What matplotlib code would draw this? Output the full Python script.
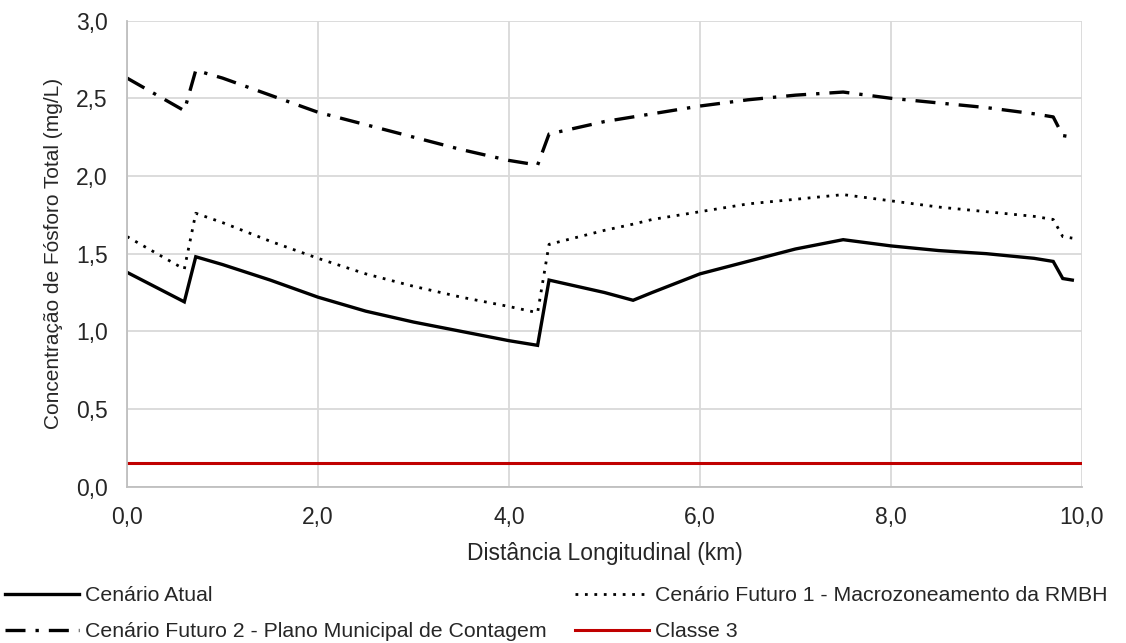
import matplotlib
matplotlib.use("Agg")
from matplotlib import pyplot as plt
from matplotlib.ticker import FuncFormatter, MultipleLocator

# distance along the river (km)
dist = [0.0, 0.6, 0.72, 1.0, 1.5, 2.0, 2.5, 3.0, 3.5, 4.0, 4.3, 4.42, 5.0, 5.3,
        5.5, 6.0, 6.5, 7.0, 7.5, 8.0, 8.5, 9.0, 9.5, 9.7, 9.8, 9.9]

atual = [1.38, 1.19, 1.48, 1.43, 1.33, 1.22, 1.13, 1.06, 1.00, 0.94, 0.91, 1.33, 1.25, 1.20,
         1.25, 1.37, 1.45, 1.53, 1.59, 1.55, 1.52, 1.50, 1.47, 1.45, 1.34, 1.33]

futuro1 = [1.61, 1.40, 1.76, 1.70, 1.58, 1.47, 1.37, 1.29, 1.22, 1.16, 1.12, 1.56, 1.65, 1.69,
           1.72, 1.77, 1.82, 1.85, 1.88, 1.84, 1.80, 1.77, 1.74, 1.72, 1.61, 1.60]

futuro2 = [2.63, 2.42, 2.68, 2.63, 2.52, 2.41, 2.33, 2.25, 2.17, 2.10, 2.07, 2.27, 2.35, 2.38,
           2.40, 2.45, 2.49, 2.52, 2.54, 2.50, 2.47, 2.44, 2.40, 2.38, 2.26, 2.25]

classe3_x = [0.0, 10.0]
classe3 = [0.15, 0.15]

labels = ["Cenário Atual",
          "Cenário Futuro 1 - Macrozoneamento da RMBH",
          "Cenário Futuro 2 - Plano Municipal de Contagem",
          "Classe 3"]

plt.rcParams["font.family"] = ["Liberation Sans", "DejaVu Sans"]
plt.rcParams["font.size"] = 16
txt = "#262626"

fig = plt.figure(figsize=(11.26, 6.43), dpi=100)
ax = fig.add_axes([0.1128, 0.243, 0.848, 0.725])

l1, = ax.plot(dist, atual, color="black", lw=2.4, solid_joinstyle="miter")
l2, = ax.plot(dist, futuro1, color="black", lw=2.0, linestyle=(0, (1, 2.4)))
l3, = ax.plot(dist, futuro2, color="black", lw=2.4, linestyle=(0, (6, 3, 1, 3)))
l4, = ax.plot(classe3_x, classe3, color="#c00000", lw=2.2)

ax.set_xlim(0, 10)
ax.set_ylim(0, 3)
ax.xaxis.set_major_locator(MultipleLocator(2))
ax.yaxis.set_major_locator(MultipleLocator(0.5))
comma = FuncFormatter(lambda v, p: ("%.1f" % v).replace(".", ","))
ax.xaxis.set_major_formatter(comma)
ax.yaxis.set_major_formatter(comma)
ax.grid(True, color="#d9d9d9", lw=1.3)
ax.set_axisbelow(True)
for s in ["top", "right"]:
    ax.spines[s].set_visible(False)
for s in ["left", "bottom"]:
    ax.spines[s].set_color("#bfbfbf")
    ax.spines[s].set_linewidth(1.3)
ax.tick_params(length=0, labelsize=16.5, colors=txt)
ax.tick_params(axis="x", pad=14)
ax.tick_params(axis="y", pad=14)

ax.set_xlabel("Distância Longitudinal (km)", fontsize=16.5, color=txt, labelpad=9)
ax.set_ylabel("Concentração de Fósforo Total (mg/L)", fontsize=15, color=txt, labelpad=9)

# ncol=2 fills by column, so order to get rows: Atual|Futuro1, Futuro2|Classe3
fig.legend([l1, l3, l2, l4], [labels[0], labels[2], labels[1], labels[3]],
           ncol=2, loc="upper left", bbox_to_anchor=(0.004, 0.088), frameon=False,
           handlelength=3.5, handletextpad=0.3, columnspacing=1.3,
           labelspacing=0.78, borderaxespad=0, borderpad=0, fontsize=15.3,
           labelcolor=txt)

fig.savefig("out.png", dpi=100)
